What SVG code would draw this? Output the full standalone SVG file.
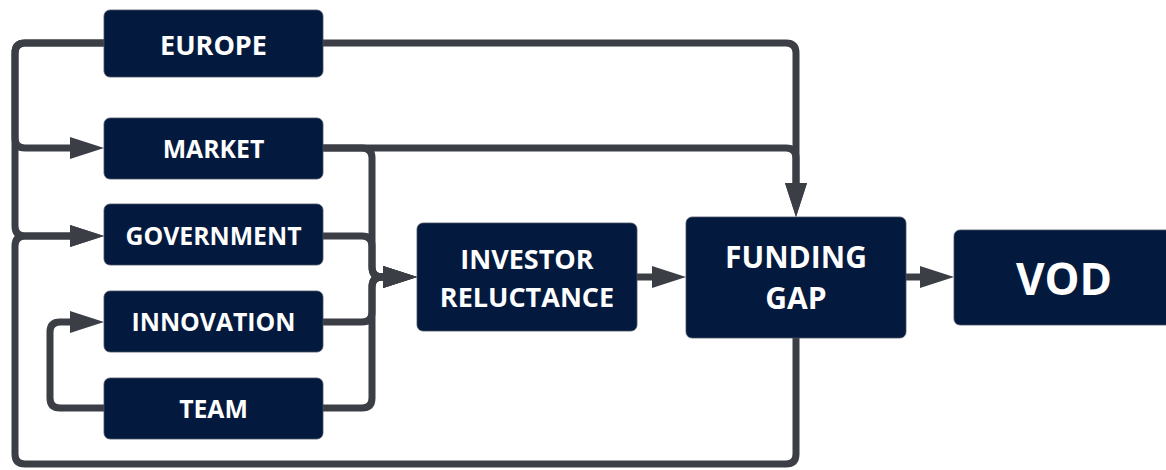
<svg xmlns="http://www.w3.org/2000/svg" width="1166" height="470" viewBox="0 0 1166 470">
  <style>
    .node rect { fill: #031a3e; stroke: #4a5262; stroke-width: 0.8; }
    .node text { fill: #ffffff; font-family: "Open Sans", "Liberation Sans", sans-serif; font-weight: 700; text-anchor: middle; }
    .sm { font-size: 24.8px; }
    .xl { font-size: 27px; }
    .md { font-size: 27px; }
    .mdl { font-size: 30px; }
    .lg { font-size: 44px; }
    .wire { fill: none; stroke: #3b3e45; stroke-width: 7; stroke-linejoin: round; }
    .arrow { marker-end: url(#head); }
  </style>
  <defs>
    <marker id="head" markerUnits="userSpaceOnUse" markerWidth="34" markerHeight="22" refX="0" refY="11" orient="auto">
      <path d="M0,0 L34,11 L0,22 Z" fill="#3b3e45"/>
    </marker>
  </defs>

  <rect width="1166" height="470" fill="#ffffff"/>

  <!-- connectors -->
  <g id="connectors">
    <!-- outer left bus: europe feeds market and government -->
    <path class="wire arrow" d="M104,43 H25 Q15,43 15,53 V138 Q15,148 25,148 H70"/>
    <path class="wire arrow" d="M104,43 H25 Q15,43 15,53 V226 Q15,236 25,236 H70"/>
    <!-- feedback from funding gap back to government -->
    <path class="wire arrow" d="M796,338 V454 Q796,464 786,464 H25 Q15,464 15,454 V246 Q15,236 25,236 H70"/>
    <!-- team feeds innovation -->
    <path class="wire arrow" d="M104,408 H60 Q50,408 50,398 V332 Q50,322 60,322 H70"/>
    <!-- europe and market feed funding gap from above -->
    <path class="wire arrow" d="M323,43 H786 Q796,43 796,53 V183"/>
    <path class="wire arrow" d="M323,148 H786 Q796,148 796,158 V183"/>
    <!-- drivers converge on investor reluctance -->
    <path class="wire arrow" d="M323,148 H362 Q372,148 372,158 V267 Q372,277 382,277 H383"/>
    <path class="wire arrow" d="M323,236 H362 Q372,236 372,246 V267 Q372,277 382,277 H383"/>
    <path class="wire arrow" d="M323,322 H362 Q372,322 372,312 V287 Q372,277 382,277 H383"/>
    <path class="wire arrow" d="M323,408 H362 Q372,408 372,398 V287 Q372,277 382,277 H383"/>
    <!-- main chain -->
    <path class="wire arrow" d="M637,277 H652"/>
    <path class="wire arrow" d="M906,277 H920"/>
  </g>

  <!-- nodes -->
  <g id="europe" class="node">
    <rect x="104" y="10" width="219" height="67" rx="6"/>
    <text class="xl" x="213.5" y="54.5">EUROPE</text>
  </g>
  <g id="market" class="node">
    <rect x="104" y="118" width="219" height="61" rx="6"/>
    <text class="sm" x="213.5" y="158">MARKET</text>
  </g>
  <g id="government" class="node">
    <rect x="104" y="204" width="219" height="61" rx="6"/>
    <text class="sm" x="213.5" y="245">GOVERNMENT</text>
  </g>
  <g id="innovation" class="node">
    <rect x="104" y="291" width="219" height="61" rx="6"/>
    <text class="sm" x="213.5" y="331">INNOVATION</text>
  </g>
  <g id="team" class="node">
    <rect x="104" y="378" width="219" height="61" rx="6"/>
    <text class="sm" x="213.5" y="418">TEAM</text>
  </g>
  <g id="investor-reluctance" class="node">
    <rect x="417" y="223" width="220" height="108" rx="6"/>
    <text class="md" x="527" y="269">INVESTOR</text>
    <text class="md" x="527" y="307">RELUCTANCE</text>
  </g>
  <g id="funding-gap" class="node">
    <rect x="686" y="217" width="220" height="121" rx="6"/>
    <text class="mdl" x="796" y="268">FUNDING</text>
    <text class="mdl" x="796" y="309">GAP</text>
  </g>
  <g id="vod" class="node">
    <rect x="954" y="230" width="222" height="95" rx="6"/>
    <text class="lg" x="1064" y="295">VOD</text>
  </g>
</svg>
